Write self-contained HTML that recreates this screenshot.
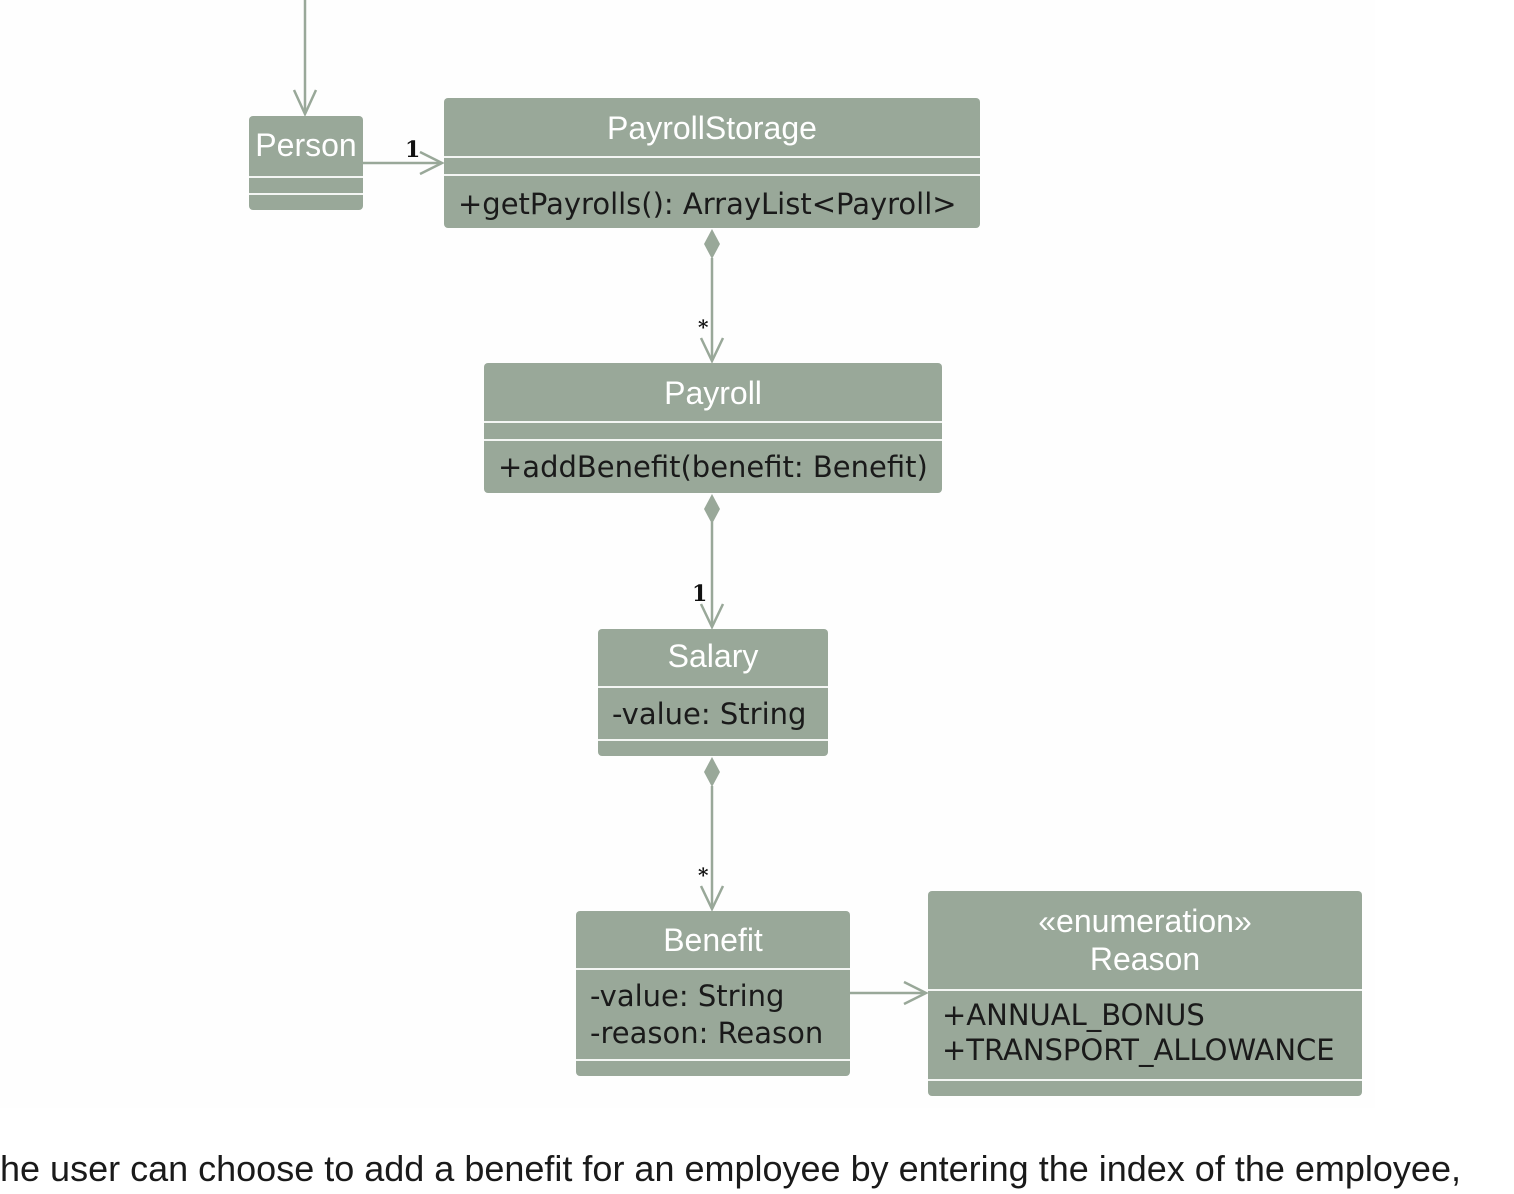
<!DOCTYPE html>
<html><head><style>
body{margin:0;width:1514px;height:1194px;background:#fff;position:relative;overflow:hidden;font-family:"Liberation Sans",sans-serif}
.bg{position:absolute;left:0;top:0;width:1375px;height:1108px;background:#fefefe}
.b{position:absolute;background:#99a899;border-radius:4px}
.l{position:absolute;left:0;right:0;height:2px;background:#f4f6f4}
.t{position:absolute;left:0;right:0;text-align:center;color:#fff;font-size:32px}
.m{position:absolute;left:14px;color:#1a1a1a;font-size:29px;font-family:"DejaVu Sans",sans-serif;white-space:nowrap;line-height:37px}
</style></head><body>
<div class="bg"></div>
<svg style="position:absolute;left:0;top:0" width="1514" height="1194">
<g stroke="#99a899" stroke-width="2.5" fill="none">
<line x1="305" y1="0" x2="305" y2="114"/><polyline points="294,90 305,114 316,90"/>
<line x1="363" y1="163" x2="442" y2="163"/><polyline points="420,152 442,163 420,174"/>
<line x1="712" y1="258" x2="712" y2="361"/><polyline points="701,338 712,361 723,338"/>
<line x1="712" y1="522" x2="712" y2="627"/><polyline points="701,604 712,627 723,604"/>
<line x1="712" y1="786" x2="712" y2="909"/><polyline points="701,886 712,909 723,886"/>
<line x1="850" y1="993" x2="926" y2="993"/><polyline points="904,982 926,993 904,1004"/>
</g>
<g fill="#99a899">
<polygon points="712,229 720,244 712,259 704,244"/>
<polygon points="712,494 720,509 712,524 704,509"/>
<polygon points="712,757 720,772 712,787 704,772"/>
</g>
<g font-family="DejaVu Serif,serif" font-weight="bold" fill="#111">
<text x="405" y="157" font-size="22">1</text>
<text x="698" y="334" font-size="20">*</text>
<text x="692" y="601" font-size="22">1</text>
<text x="698" y="882" font-size="20">*</text>
</g>
</svg>
<div class="b" style="left:249px;top:116px;width:114px;height:94px"><div class="t" style="top:11px">Person</div><div class="l" style="top:60px"></div><div class="l" style="top:77px"></div></div>
<div class="b" style="left:444px;top:98px;width:536px;height:130px"><div class="t" style="top:12px">PayrollStorage</div><div class="l" style="top:58px"></div><div class="l" style="top:76px"></div><div class="m" style="top:88px">+getPayrolls(): ArrayList&lt;Payroll&gt;</div></div>
<div class="b" style="left:484px;top:363px;width:458px;height:130px"><div class="t" style="top:12px">Payroll</div><div class="l" style="top:58px"></div><div class="l" style="top:76px"></div><div class="m" style="top:86px">+addBenefit(benefit: Benefit)</div></div>
<div class="b" style="left:598px;top:629px;width:230px;height:127px"><div class="t" style="top:9px">Salary</div><div class="l" style="top:57px"></div><div class="m" style="top:67px">-value: String</div><div class="l" style="top:110px"></div></div>
<div class="b" style="left:576px;top:911px;width:274px;height:165px"><div class="t" style="top:11px">Benefit</div><div class="l" style="top:57px"></div><div class="m" style="top:67px">-value: String<br>-reason: Reason</div><div class="l" style="top:148px"></div></div>
<div class="b" style="left:928px;top:891px;width:434px;height:205px"><div class="t" style="top:11px;line-height:38px">«enumeration»<br>Reason</div><div class="l" style="top:98px"></div><div class="m" style="top:107px;line-height:35px">+ANNUAL_BONUS<br>+TRANSPORT_ALLOWANCE</div><div class="l" style="top:188px"></div></div>
<div style="position:absolute;left:0;top:1148px;font-size:36px;color:#1a1a1a;white-space:nowrap">he user can choose to add a benefit for an employee by entering the index of the employee,</div>
</body></html>
